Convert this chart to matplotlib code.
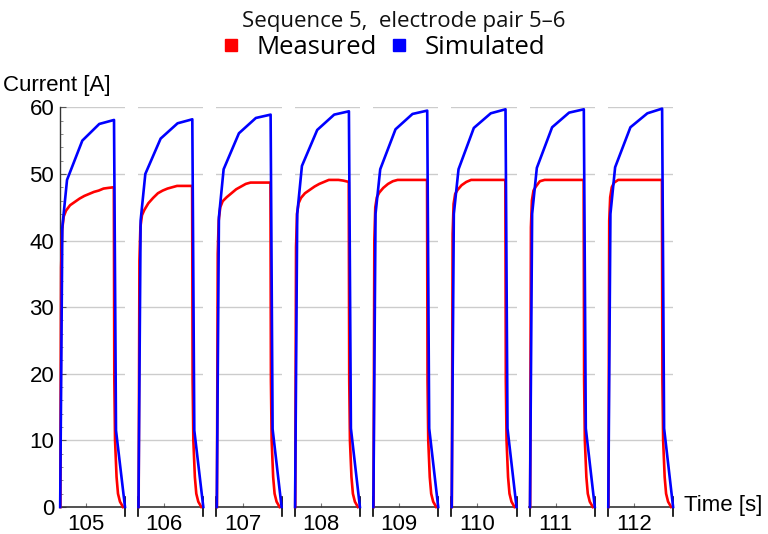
import matplotlib
matplotlib.use("Agg")
import matplotlib.pyplot as plt
from matplotlib.lines import Line2D

# ---- data ----
tick_times = [105, 106, 107, 108, 109, 110, 111, 112]

# time offsets (s) relative to each panel's labelled second
blue_tau = [-0.324, -0.297, -0.238, -0.046, 0.167, 0.352, 0.377, 0.490]
sim_1 = [0, 42.0, 49.1, 55.0, 57.5, 58.1, 11.5, 0]
sim_2 = [0, 43.0, 50.0, 55.3, 57.6, 58.2, 11.5, 0]
sim_3 = [0, 43.5, 50.7, 56.1, 58.4, 58.9, 11.7, 0]
sim_4 = [0, 44.0, 51.2, 56.6, 58.9, 59.4, 11.8, 0]
sim_5 = [0, 44.0, 50.7, 56.7, 59.0, 59.5, 11.8, 0]
sim_6 = [0, 44.0, 50.7, 56.9, 59.1, 59.7, 11.8, 0]
sim_7 = [0, 44.0, 50.9, 57.0, 59.2, 59.7, 11.8, 0]
sim_8 = [0, 44.0, 51.0, 57.0, 59.1, 59.8, 11.8, 0]

red_tau = [-0.322, -0.312, -0.300, -0.28, -0.25, -0.20, -0.14, -0.08, -0.02,
           0.04, 0.10, 0.16, 0.22, 0.28, 0.35, 0.356, 0.365, 0.384, 0.402,
           0.427, 0.465]
meas_1 = [0, 36, 41.5, 43.6, 44.5, 45.3, 45.8, 46.3, 46.7, 47.0, 47.3, 47.5,
          47.8, 47.9, 48.0, 19, 10, 4.5, 2.0, 0.8, 0]
meas_2 = [0, 37, 42.0, 43.8, 44.6, 45.6, 46.4, 47.1, 47.5, 47.8, 48.0, 48.2,
          48.2, 48.2, 48.2, 19, 10, 4.5, 2.0, 0.8, 0]
meas_3 = [0, 38, 43.0, 45.0, 45.9, 46.5, 47.1, 47.7, 48.1, 48.5, 48.7, 48.7,
          48.7, 48.7, 48.7, 19, 10, 4.5, 2.0, 0.8, 0]
meas_4 = [0, 39, 44.0, 45.6, 46.4, 47.1, 47.6, 48.1, 48.5, 48.8, 49.1, 49.1,
          49.1, 49.0, 48.8, 19, 10, 4.5, 2.0, 0.8, 0]
meas_5 = [0, 40, 45.0, 46.5, 47.2, 47.9, 48.5, 48.9, 49.1, 49.1, 49.1, 49.1,
          49.1, 49.1, 49.1, 19, 10, 4.5, 2.0, 0.8, 0]
meas_6 = [0, 41, 45.5, 47.0, 47.6, 48.3, 48.8, 49.1, 49.1, 49.1, 49.1, 49.1,
          49.1, 49.1, 49.1, 19, 10, 4.5, 2.0, 0.8, 0]
meas_7 = [0, 42, 46.0, 47.5, 48.1, 48.9, 49.1, 49.1, 49.1, 49.1, 49.1, 49.1,
          49.1, 49.1, 49.1, 19, 10, 4.5, 2.0, 0.8, 0]
meas_8 = [0, 43, 46.5, 48.0, 48.7, 49.1, 49.1, 49.1, 49.1, 49.1, 49.1, 49.1,
          49.1, 49.1, 49.1, 19, 10, 4.5, 2.0, 0.8, 0]

sim_all = [sim_1, sim_2, sim_3, sim_4, sim_5, sim_6, sim_7, sim_8]
meas_all = [meas_1, meas_2, meas_3, meas_4, meas_5, meas_6, meas_7, meas_8]

y_ticks = [0, 10, 20, 30, 40, 50, 60]
y_minor = [v for v in range(0, 61, 2) if v % 10 != 0]

# ---- layout ----
W, H = 768, 534
fig = plt.figure(figsize=(W / 100, H / 100), dpi=100)
font = "Liberation Sans"
plt.rcParams["font.family"] = font

left0, step, width = 59.7, 78.3, 65.3
top_px, bot_px = 107.3, 507.0
axcol = "#333333"

for i, t0 in enumerate(tick_times):
    lpx = left0 + i * step
    ax = fig.add_axes([lpx / W, 1 - bot_px / H, width / W, (bot_px - top_px) / H])
    ax.set_xlim(t0 - 0.33, t0 + 0.49)
    ax.set_ylim(0, 60)
    for sp in ["top", "right"]:
        ax.spines[sp].set_visible(False)
    ax.spines["bottom"].set_color(axcol)
    ax.spines["bottom"].set_linewidth(1.2)
    if i == 0:
        ax.spines["left"].set_color(axcol)
        ax.spines["left"].set_linewidth(1.0)
        ax.set_yticks(y_ticks)
        ax.set_yticks(y_minor, minor=True)
        ax.tick_params(axis="y", which="major", direction="in", length=4,
                       width=0.8, color="#555555", labelsize=16, pad=4)
        ax.tick_params(axis="y", which="minor", direction="in", length=2,
                       width=0.6, color="#777777")
    else:
        ax.spines["left"].set_visible(False)
        ax.set_yticks([])
        ax.plot([0, 0], [-0.023, 0.025], transform=ax.transAxes,
                color="black", lw=1.2, clip_on=False)
    ax.plot([1, 1], [-0.023, 0.025], transform=ax.transAxes,
            color="black", lw=1.2, clip_on=False)
    ax.set_xticks([t0])
    ax.set_xticklabels([str(t0)])
    ax.tick_params(axis="x", direction="in", length=3, width=0.8,
                   color="#777777", labelsize=16, pad=5)
    for g in y_ticks[1:]:
        ax.axhline(g, color="#cccccc", lw=1.0, zorder=0)
    ax.plot([t0 + d for d in red_tau], meas_all[i], color="#ff0000", lw=1.9,
            zorder=3, clip_on=False)
    ax.plot([t0 + d for d in blue_tau], sim_all[i], color="#0000ff", lw=1.9,
            zorder=4, clip_on=False)

fig.text(3 / W, 1 - 86 / H, "Current [A]", fontsize=16, va="center", ha="left")
fig.text(684 / W, 1 - 505 / H, "Time [s]", fontsize=16, va="center", ha="left")

fig.text(404 / W, 1 - 22 / H, "Sequence 5,  electrode pair 5\u20136",
         fontsize=16, ha="center", va="center", family="Open Sans",
         color="#111111")

handles = [Line2D([], [], ls="none", marker="s", markersize=8,
                  markerfacecolor="#ff0000", markeredgecolor="#ff0000"),
           Line2D([], [], ls="none", marker="s", markersize=8,
                  markerfacecolor="#0000ff", markeredgecolor="#0000ff")]
fig.legend(handles, ["Measured", "Simulated"], loc="center",
           bbox_to_anchor=(385 / W, 1 - 47 / H), ncol=2, frameon=False,
           prop={"family": "Open Sans", "size": 18.5},
           handlelength=0.5, handletextpad=0.75,
           columnspacing=0.6, borderpad=0.0, borderaxespad=0.0)

fig.savefig("out.png", dpi=100)
